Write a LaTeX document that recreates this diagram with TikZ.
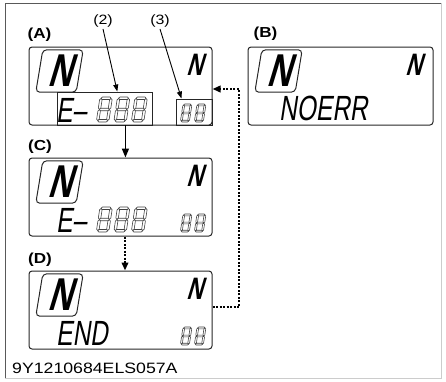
\documentclass[tikz,border=0pt]{standalone}
\usepackage{fontspec}
\setmainfont{Liberation Sans}
\newfontfamily\lcdfont[FakeStretch=0.7,FakeSlant=0.15]{Liberation Sans}
\newfontfamily\nfont[FakeStretch=0.72,FakeSlant=0.3]{Liberation Sans}
\usetikzlibrary{arrows.meta,positioning,shapes.geometric,calc}
\newcommand\widen[1]{\scalebox{1.18}[1]{#1}}
\tikzset{
  panel/.style={draw=black!85, rounded corners=3pt, line width=1pt,
                minimum width=183pt, minimum height=78pt, inner sep=0pt},
  dbox/.style={draw=black!85, line width=0.9pt, inner sep=0pt},
  nbig/.style={minimum width=40pt, minimum height=42pt, inner sep=0pt,
               font=\nfont\bfseries\fontsize{46}{46}\selectfont},
  slantbox/.style={draw=black!85, line width=1pt, rounded corners=4pt},
  nsmall/.style={anchor=base west, inner sep=0pt,
                 font=\nfont\bfseries\fontsize{31}{31}\selectfont},
  lcd/.style={anchor=base west, inner sep=0pt,
              font=\lcdfont\fontsize{35}{35}\selectfont},
  lbl/.style={inner sep=1pt, font=\bfseries\fontsize{14.5}{16}\selectfont},
  num/.style={inner sep=1pt, font=\fontsize{13.5}{15}\selectfont},
  seg/.style={draw=black!75, fill=white, line width=0.6pt},
  ar/.style={-{Triangle[length=9pt,width=7pt]}, line width=1.5pt},
  thinar/.style={-{Triangle[length=7pt,width=5pt]}, line width=0.9pt},
  dotar/.style={-{Triangle[length=8pt,width=6.5pt]}, line width=2pt,
                dash pattern=on 2pt off 1.5pt},
  pics/segdigit/.style={code={
    \begin{scope}[scale=#1, xslant=0.15]
      \foreach \yy in {0.1,1,1.9}
        \draw[seg] (0.1,\yy) -- ++(0.1,-0.1) -- ++(0.6,0) -- ++(0.1,0.1)
                   -- ++(-0.1,0.1) -- ++(-0.6,0) -- cycle;
      \foreach \xx/\yy in {0.1/0.12,0.9/0.12,0.1/1.02,0.9/1.02}
        \draw[seg] (\xx,\yy) -- ++(0.1,0.1) -- ++(0,0.66) -- ++(-0.1,0.1)
                   -- ++(-0.1,-0.1) -- ++(0,-0.66) -- cycle;
    \end{scope}
  }},
}
\begin{document}
\begin{tikzpicture}[x=1pt, y=-1pt]
  \useasboundingbox (0,0) rectangle (446,381);
  % outer frame
  \draw[black!65, line width=1pt] (5,378) -- (5,3) -- (441,3);
  \draw[black!20, line width=1pt] (441,3) -- (441,378) -- (5,378);

  % panels
  \node[panel] (pA) at (120.5,86) {};
  \node[panel, minimum width=185pt] (pB) at (340.5,86) {};
  \node[panel] (pC) at (120.5,197) {};
  \node[panel] (pD) at (120.5,310) {};

  \node[lbl] (lA) at (39.5,35) {\widen{(A)}};
  \node[lbl] (lB) at (265.5,34) {\widen{(B)}};
  \node[lbl] (lC) at (40,147) {\widen{(C)}};
  \node[lbl] (lD) at (40,259.5) {\widen{(D)}};
  \node[num] (n2) at (103,21.5) {\widen{(2)}};
  \node[num] (n3) at (160,21.5) {\widen{(3)}};

  % (A)
  \node[nbig] (nA) at (59.5,71) {N};
  \node[nsmall] (sA) at (186,75) {N};
  \node[dbox, minimum width=95pt, minimum height=33pt] (ebox) at (104.5,108.5) {};
  \node[dbox, minimum width=36pt, minimum height=26pt] (sbox) at (194,112) {};
  \node[lcd] (eA) at (56,122) {E–};
  \foreach \i in {0,1,2} \pic at (100+17.5*\i,97) {segdigit=12.5};
  \foreach \i in {0,1} \pic at (183+14*\i,104) {segdigit=9};

  % (B)
  \node[nbig] (nB) at (278.5,71) {N};
  \node[nsmall] (sB) at (405,75) {N};
  \node[lcd] (eB) at (279,120) {NOERR};

  % (C)
  \node[nbig] (nC) at (59.5,182) {N};
  \node[nsmall] (sC) at (186,186) {N};
  \node[lcd] (eC) at (56,232) {E–};
  \foreach \i in {0,1,2} \pic at (100+17.5*\i,207) {segdigit=12.5};
  \foreach \i in {0,1} \pic at (183+14*\i,214) {segdigit=9};

  % (D)
  \node[nbig] (nD) at (59.5,295) {N};
  \node[nsmall] (sD) at (186,299) {N};
  \node[lcd] (eD) at (56,345) {END};
  \foreach \i in {0,1} \pic at (183+14*\i,327) {segdigit=9};

  % slanted frames round the big N
  \foreach \n in {nA,nB,nC,nD}
    \draw[slantbox] ($(\n.north west)+(3.5,0)$) -- ($(\n.north east)+(3.5,0)$)
      -- ($(\n.south east)+(-3.5,0)$) -- ($(\n.south west)+(-3.5,0)$) -- cycle;

  \node[inner sep=0pt, anchor=west, font=\fontsize{15}{17}\selectfont] (code) at (12,368.5)
    {\widen{9Y1210684ELS057A}};

  % connectors
  \draw[thinar] (n2.south) -- (ebox.53);
  \draw[thinar] (n3.south) -- (sbox.133);
  \draw[ar] (ebox.-39) -- (ebox.-39 |- pC.north);
  \draw[dotar] ([xshift=4.5pt]pC.south) -- ([xshift=4.5pt]pD.north);
  \coordinate (ret) at (239,307);
  \draw[dotar] ([yshift=3pt]pD.east) -- ([yshift=3pt]pD.east -| ret)
    |- ([yshift=-3pt]pA.east);
\end{tikzpicture}
\end{document}
